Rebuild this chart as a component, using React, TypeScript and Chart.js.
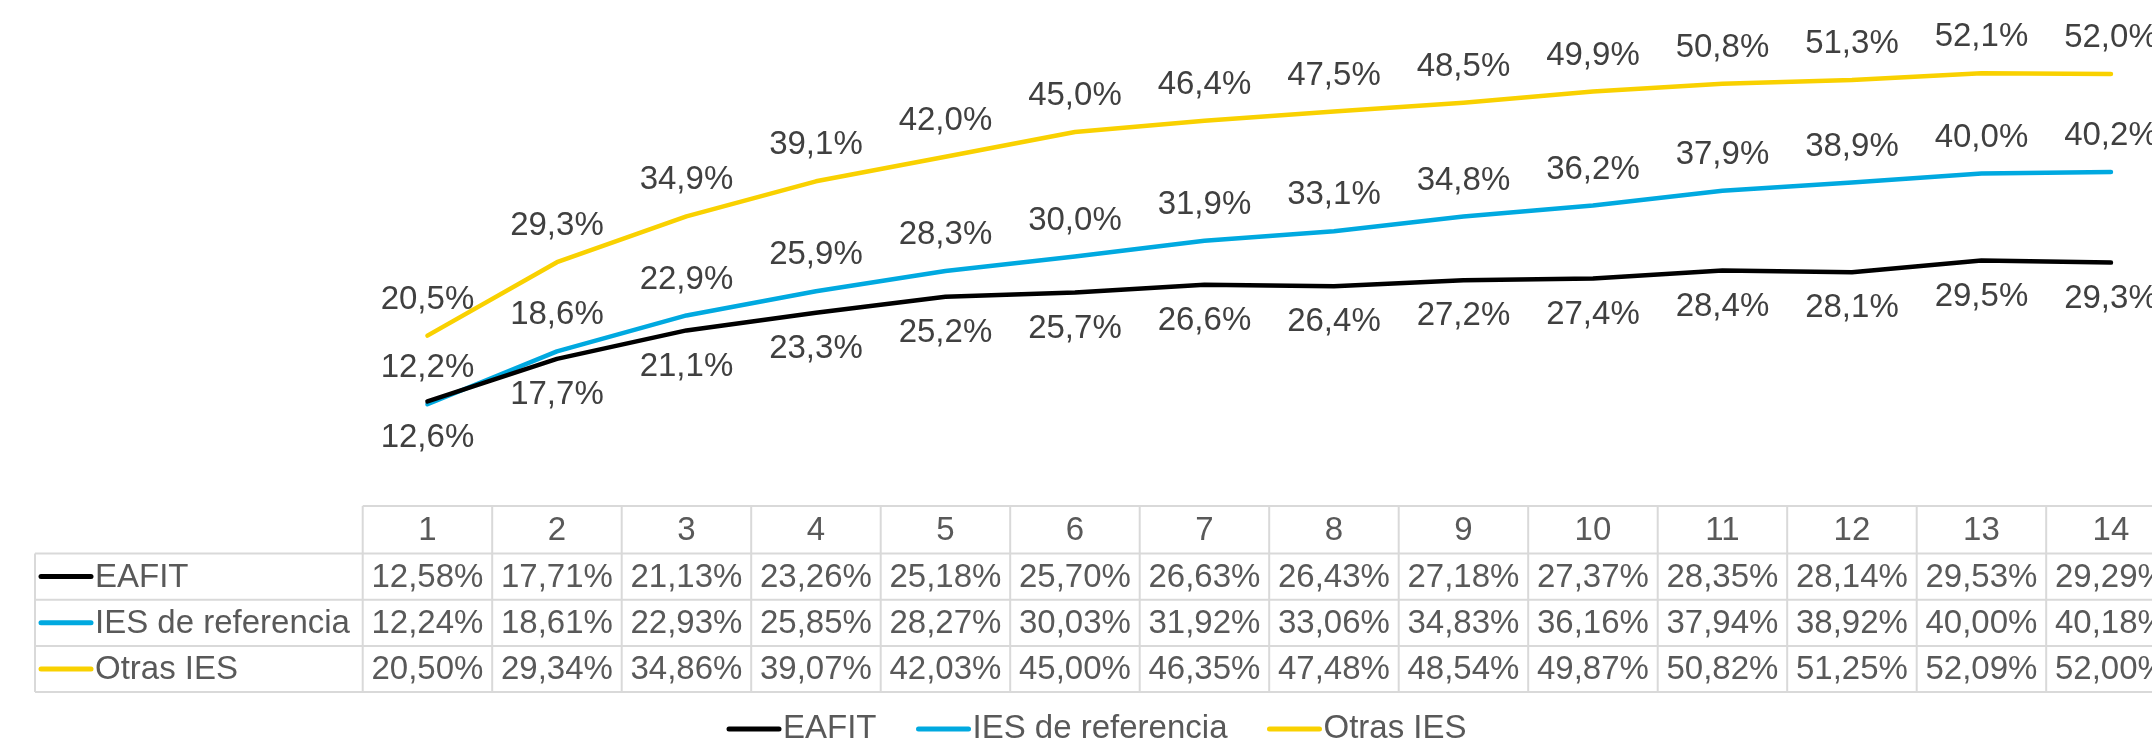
import React, { useEffect, useRef } from "react";
import { Chart, registerables } from "chart.js";

Chart.register(...registerables);

const categories = ["1", "2", "3", "4", "5", "6", "7", "8", "9", "10", "11", "12", "13", "14"];
const eafit = [12.58, 17.71, 21.13, 23.26, 25.18, 25.7, 26.63, 26.43, 27.18, 27.37, 28.35, 28.14, 29.53, 29.29];
const iesReferencia = [12.24, 18.61, 22.93, 25.85, 28.27, 30.03, 31.92, 33.06, 34.83, 36.16, 37.94, 38.92, 40.0, 40.18];
const otrasIes = [20.5, 29.34, 34.86, 39.07, 42.03, 45.0, 46.35, 47.48, 48.54, 49.87, 50.82, 51.25, 52.09, 52.0];
const seriesNames = ["EAFIT", "IES de referencia", "Otras IES"];
const seriesColors = ["#000000", "#00A9E0", "#F9D100"];
const labelSide = [1, -1, -1]; // 1 = below, -1 = above

const FONT = '33px "Liberation Sans", Arial, sans-serif';
const W = 2200;
const H = 747;

const fmt1 = (v: number) => (Math.round(v * 10) / 10).toFixed(1).replace(".", ",") + "%";
const fmt2 = (v: number) => (Math.round(v * 100) / 100).toFixed(2).replace(".", ",") + "%";

const tablePlugin = {
  id: "excelTable",
  afterDatasetsDraw(chart: any) {
    const ctx = chart.ctx;
    const area = chart.chartArea;
    const xs = chart.scales.x;
    // data labels
    ctx.save();
    ctx.font = FONT;
    ctx.fillStyle = "#404040";
    ctx.textAlign = "center";
    ctx.textBaseline = "middle";
    chart.data.datasets.forEach((ds: any, di: number) => {
      const meta = chart.getDatasetMeta(di);
      meta.data.forEach((pt: any, i: number) => {
        ctx.fillText(fmt1(ds.data[i]), pt.x, pt.y + labelSide[di] * 36);
      });
    });
    ctx.restore();
  },
  afterDraw(chart: any) {
    const ctx = chart.ctx;
    const area = chart.chartArea;
    const xs = chart.scales.x;
    const n = categories.length;
    const colW = (area.right - area.left) / n;
    const left = area.left;
    const right = area.right;
    const y0 = area.bottom;
    const headerH = 47.5;
    const rowH = 46.2;
    const yRows = [y0, y0 + headerH, y0 + headerH + rowH, y0 + headerH + 2 * rowH, y0 + headerH + 3 * rowH];
    const legendLeft = 35;

    ctx.save();
    ctx.strokeStyle = "#D9D9D9";
    ctx.lineWidth = 2;
    ctx.beginPath();
    ctx.moveTo(left, yRows[0]);
    ctx.lineTo(right, yRows[0]);
    for (let r = 1; r < yRows.length; r++) {
      ctx.moveTo(legendLeft, yRows[r]);
      ctx.lineTo(right, yRows[r]);
    }
    ctx.moveTo(legendLeft, yRows[1]);
    ctx.lineTo(legendLeft, yRows[4]);
    for (let c = 0; c <= n; c++) {
      const x = left + c * colW;
      ctx.moveTo(x, yRows[0]);
      ctx.lineTo(x, yRows[4]);
    }
    ctx.stroke();

    ctx.font = FONT;
    ctx.fillStyle = "#595959";
    ctx.textBaseline = "middle";
    ctx.textAlign = "center";
    categories.forEach((c, i) => {
      ctx.fillText(c, xs.getPixelForValue(i), (yRows[0] + yRows[1]) / 2 + 1);
    });
    chart.data.datasets.forEach((ds: any, di: number) => {
      const yc = (yRows[di + 1] + yRows[di + 2]) / 2 + 1;
      ctx.textAlign = "center";
      ctx.fillStyle = "#595959";
      ds.data.forEach((v: number, i: number) => {
        ctx.fillText(fmt2(v), xs.getPixelForValue(i), yc);
      });
      // legend key in table
      ctx.strokeStyle = seriesColors[di];
      ctx.lineWidth = 5;
      ctx.lineCap = "round";
      ctx.beginPath();
      ctx.moveTo(41, yc - 1);
      ctx.lineTo(91, yc - 1);
      ctx.stroke();
      ctx.textAlign = "left";
      ctx.fillText(seriesNames[di], 95, yc);
    });

    // bottom legend
    let lx = 729;
    const ly = 729;
    ctx.textAlign = "left";
    seriesNames.forEach((name, di) => {
      ctx.strokeStyle = seriesColors[di];
      ctx.lineWidth = 5;
      ctx.lineCap = "round";
      ctx.beginPath();
      ctx.moveTo(lx, ly);
      ctx.lineTo(lx + 50, ly);
      ctx.stroke();
      ctx.fillStyle = "#595959";
      ctx.fillText(name, lx + 54, ly);
      lx += 54 + ctx.measureText(name).width + 42;
    });
    ctx.restore();
  },
};

export default function App() {
  const ref = useRef<HTMLCanvasElement | null>(null);
  useEffect(() => {
    if (!ref.current) return;
    const chart = new Chart(ref.current, {
      type: "line",
      data: {
        labels: categories,
        datasets: [eafit, iesReferencia, otrasIes].map((d, i) => ({
          label: seriesNames[i],
          data: d,
          borderColor: seriesColors[i],
          backgroundColor: seriesColors[i],
          borderWidth: 4.5,
          pointRadius: 0,
          tension: 0,
          borderCapStyle: "round" as const,
          borderJoinStyle: "round" as const,
        })),
      },
      options: {
        responsive: false,
        animation: false,
        layout: { padding: { left: 362.7, right: W - 2175.7, top: 7.4, bottom: H - 506 } },
        plugins: { legend: { display: false }, tooltip: { enabled: false } },
        scales: {
          x: { display: false, offset: true },
          y: { display: false, min: 0, max: 60 },
        },
      },
      plugins: [tablePlugin],
    });
    return () => chart.destroy();
  }, []);
  return (
    <div style={{ position: "fixed", left: 0, top: 0, width: 2152, height: 747, overflow: "hidden", background: "#fff" }}>
      <canvas ref={ref} width={W} height={H} style={{ display: "block", width: W, height: H }} />
    </div>
  );
}
